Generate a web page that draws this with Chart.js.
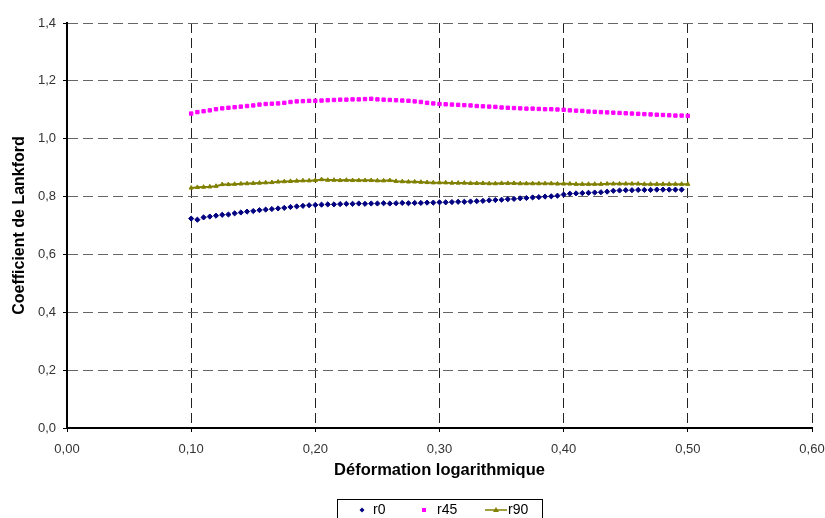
<!DOCTYPE html>
<html>
<head>
<meta charset="utf-8">
<script src="https://cdn.jsdelivr.net/npm/chart.js@4.4.0/dist/chart.umd.min.js"></script>
<style>
  html, body { margin: 0; padding: 0; background: #fff; }
  #wrap { width: 825px; height: 518px; }
</style>
</head>
<body>
<div id="wrap"><canvas id="lankford"></canvas></div>
<script>
// Déformation logarithmique (x)
const strain = [
  0.100, 0.105, 0.110, 0.115, 0.120, 0.125, 0.130, 0.135, 0.140, 0.145,
  0.150, 0.155, 0.160, 0.165, 0.170, 0.175, 0.180, 0.185, 0.190, 0.195,
  0.200, 0.205, 0.210, 0.215, 0.220, 0.225, 0.230, 0.235, 0.240, 0.245,
  0.250, 0.255, 0.260, 0.265, 0.270, 0.275, 0.280, 0.285, 0.290, 0.295,
  0.300, 0.305, 0.310, 0.315, 0.320, 0.325, 0.330, 0.335, 0.340, 0.345,
  0.350, 0.355, 0.360, 0.365, 0.370, 0.375, 0.380, 0.385, 0.390, 0.395,
  0.400, 0.405, 0.410, 0.415, 0.420, 0.425, 0.430, 0.435, 0.440, 0.445,
  0.450, 0.455, 0.460, 0.465, 0.470, 0.475, 0.480, 0.485, 0.490, 0.495,
  0.500
];

const r0 = [
  0.724, 0.720, 0.728, 0.731, 0.734, 0.737, 0.738, 0.742, 0.745, 0.748,
  0.750, 0.753, 0.755, 0.757, 0.759, 0.761, 0.764, 0.766, 0.768, 0.770,
  0.771, 0.772, 0.773, 0.773, 0.774, 0.775, 0.775, 0.776, 0.775, 0.776,
  0.776, 0.777, 0.776, 0.777, 0.778, 0.777, 0.778, 0.778, 0.779, 0.779,
  0.780, 0.780, 0.781, 0.782, 0.782, 0.783, 0.784, 0.785, 0.787, 0.788,
  0.789, 0.791, 0.792, 0.794, 0.795, 0.797, 0.798, 0.800, 0.801, 0.803,
  0.807, 0.810, 0.811, 0.812, 0.813, 0.814, 0.815, 0.817, 0.820, 0.821,
  0.822, 0.822, 0.823, 0.823, 0.823, 0.824, 0.824, 0.824, 0.824, 0.824,
  null
];

const r45 = [
  1.087, 1.092, 1.095, 1.098, 1.102, 1.105, 1.107, 1.109, 1.111, 1.113,
  1.115, 1.118, 1.120, 1.121, 1.122, 1.124, 1.127, 1.129, 1.130, 1.131,
  1.131, 1.132, 1.133, 1.134, 1.135, 1.135, 1.136, 1.136, 1.137, 1.138,
  1.136, 1.135, 1.134, 1.133, 1.132, 1.131, 1.129, 1.127, 1.124, 1.122,
  1.120, 1.119, 1.118, 1.117, 1.116, 1.115, 1.113, 1.112, 1.111, 1.110,
  1.108, 1.107, 1.106, 1.105, 1.104, 1.104, 1.103, 1.102, 1.102, 1.101,
  1.100, 1.098, 1.097, 1.096, 1.094, 1.093, 1.092, 1.091, 1.090, 1.089,
  1.088, 1.087, 1.086, 1.085, 1.084, 1.083, 1.082, 1.081, 1.080, 1.080,
  1.079
];

const r90 = [
  0.830, 0.832, 0.833, 0.834, 0.836, 0.842, 0.842, 0.843, 0.844, 0.845,
  0.846, 0.847, 0.848, 0.849, 0.851, 0.852, 0.853, 0.854, 0.855, 0.855,
  0.856, 0.859, 0.857, 0.857, 0.856, 0.857, 0.856, 0.856, 0.856, 0.856,
  0.855, 0.855, 0.856, 0.853, 0.852, 0.851, 0.851, 0.850, 0.849, 0.848,
  0.848, 0.848, 0.847, 0.847, 0.847, 0.846, 0.846, 0.846, 0.845, 0.845,
  0.846, 0.846, 0.846, 0.845, 0.845, 0.845, 0.845, 0.845, 0.845, 0.844,
  0.844, 0.844, 0.843, 0.843, 0.843, 0.843, 0.843, 0.844, 0.844, 0.844,
  0.844, 0.844, 0.844, 0.843, 0.843, 0.843, 0.843, 0.843, 0.843, 0.843,
  0.843
];

const seriesNames = ['r0', 'r45', 'r90'];
const xTitle = 'Déformation logarithmique';
const yTitle = 'Coefficient de Lankford';

const FONT = '"Liberation Sans", Arial, sans-serif';

function toPoints(values) {
  return strain.map((x, i) => ({ x: x, y: values[i] }));
}

function comma(v, digits) {
  return v.toFixed(digits).replace('.', ',');
}

// legend drawn by hand: a boxed row under the x title, like the original
const boxedLegend = {
  id: 'boxedLegend',
  afterDraw(chart) {
    const ctx = chart.ctx;
    const ds = chart.data.datasets;
    ctx.save();
    ctx.strokeStyle = '#000';
    ctx.lineWidth = 1;
    ctx.strokeRect(337.5, 499.5, 205, 30);

    ctx.font = '14px ' + FONT;
    ctx.textBaseline = 'middle';
    const yMid = 510;

    // r0 diamond
    ctx.fillStyle = ds[0].borderColor;
    ctx.beginPath();
    ctx.moveTo(362, yMid - 2.5);
    ctx.lineTo(364.5, yMid);
    ctx.lineTo(362, yMid + 2.5);
    ctx.lineTo(359.5, yMid);
    ctx.closePath();
    ctx.fill();
    ctx.fillStyle = '#000';
    ctx.fillText(ds[0].label, 373, yMid);

    // r45 square
    ctx.fillStyle = ds[1].borderColor;
    ctx.fillRect(422, yMid - 2, 4, 4);
    ctx.fillStyle = '#000';
    ctx.fillText(ds[1].label, 437, yMid);

    // r90 line + triangle
    ctx.strokeStyle = ds[2].borderColor;
    ctx.lineWidth = 1.5;
    ctx.beginPath();
    ctx.moveTo(485, yMid);
    ctx.lineTo(507, yMid);
    ctx.stroke();
    ctx.fillStyle = ds[2].borderColor;
    ctx.beginPath();
    ctx.moveTo(496, yMid - 3);
    ctx.lineTo(499, yMid + 2);
    ctx.lineTo(493, yMid + 2);
    ctx.closePath();
    ctx.fill();
    ctx.fillStyle = '#000';
    ctx.fillText(ds[2].label, 508, yMid);
    ctx.restore();
  }
};

const ctx = document.getElementById('lankford').getContext('2d');
new Chart(ctx, {
  type: 'scatter',
  data: {
    datasets: [
      {
        label: seriesNames[0],
        data: toPoints(r0),
        borderColor: '#000080',
        backgroundColor: '#000080',
        pointStyle: 'rectRot',
        pointRadius: 2.6,
        pointBorderWidth: 1,
        showLine: false
      },
      {
        label: seriesNames[1],
        data: toPoints(r45),
        borderColor: '#FF00FF',
        backgroundColor: '#FF00FF',
        pointStyle: 'rect',
        pointRadius: 2.4,
        pointBorderWidth: 1,
        showLine: false
      },
      {
        label: seriesNames[2],
        data: toPoints(r90),
        borderColor: '#808000',
        backgroundColor: '#808000',
        pointStyle: 'triangle',
        pointRadius: 2.4,
        pointBorderWidth: 1,
        borderWidth: 2,
        showLine: true,
        tension: 0
      }
    ]
  },
  options: {
    responsive: true,
    maintainAspectRatio: false,
    animation: false,
    layout: {
      padding: { left: 0, right: 0, top: 23, bottom: 30 }
    },
    plugins: {
      legend: { display: false },
      tooltip: { enabled: false }
    },
    scales: {
      x: {
        type: 'linear',
        min: 0,
        max: 0.6,
        afterFit: function(scale) {
          scale.height = 60;
          scale.paddingLeft = 0;
          scale.paddingRight = 13;
        },
        ticks: {
          stepSize: 0.1,
          padding: 10,
          color: '#333',
          font: { family: FONT, size: 13 },
          callback: v => comma(v, 2)
        },
        grid: {
          color: '#222',
          lineWidth: 1,
          tickColor: '#000',
          tickLength: 4,
          tickBorderDash: []
        },
        border: { display: true, color: '#000', width: 2, dash: [10, 5] },
        title: {
          display: true,
          text: xTitle,
          color: '#000',
          font: { family: FONT, size: 16.5, weight: 'bold' },
          padding: { top: 4, bottom: 8 }
        }
      },
      y: {
        min: 0,
        max: 1.4,
        afterFit: function(scale) { scale.width = 67; },
        ticks: {
          stepSize: 0.2,
          padding: 7,
          color: '#333',
          font: { family: FONT, size: 13 },
          callback: v => comma(v, 1)
        },
        grid: {
          color: '#666',
          lineWidth: 1,
          tickColor: '#000',
          tickLength: 4,
          tickBorderDash: []
        },
        border: { display: true, color: '#000', width: 2, dash: [10, 5] },
        title: {
          display: true,
          text: yTitle,
          color: '#000',
          font: { family: FONT, size: 16, weight: 'bold' },
          padding: { top: 10, bottom: 0 }
        }
      }
    }
  },
  plugins: [boxedLegend]
});
</script>
</body>
</html>
